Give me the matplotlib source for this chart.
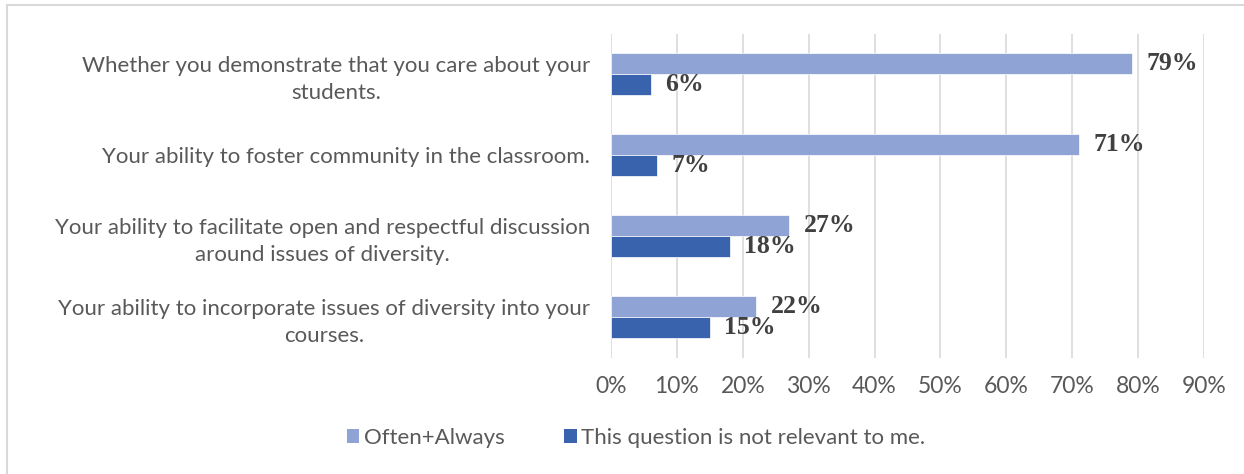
import matplotlib
matplotlib.use("Agg")
import matplotlib.pyplot as plt
from matplotlib.patches import Patch
from matplotlib.lines import Line2D

categories = [
    "Whether you demonstrate that you care about your\nstudents.",
    "Your ability to foster community in the classroom.",
    "Your ability to facilitate open and respectful discussion\naround issues of diversity.",
    "Your ability to incorporate issues of diversity into your\ncourses.",
]
often_always = [0.79, 0.71, 0.27, 0.22]
not_relevant = [0.06, 0.07, 0.18, 0.15]
series_names = ["Often+Always", "This question is not relevant to me."]
x_ticks = [0.0, 0.1, 0.2, 0.3, 0.4, 0.5, 0.6, 0.7, 0.8, 0.9]

W, H = 1244, 474
fig = plt.figure(figsize=(W / 100, H / 100), dpi=100)
fig.patch.set_facecolor("white")

# outer chart frame (left and top edges visible)
frame_c = "#d9d9d9"
fig.add_artist(Line2D([7.5 / W, 7.5 / W], [0, 1 - 5 / H], color=frame_c, lw=1.5, transform=fig.transFigure))
fig.add_artist(Line2D([7.5 / W, 1], [1 - 5 / H, 1 - 5 / H], color=frame_c, lw=1.5, transform=fig.transFigure))

left, right = 611 / W, 1204 / W
top, bottom = 1 - 33.5 / H, 1 - 357.5 / H
ax = fig.add_axes([left, bottom, right - left, top - bottom])

light = "#8FA3D4"
dark = "#3A63AD"
text_c = "#595959"
label_c = "#404040"

n = len(categories)
ypos = list(range(n))
bh = 0.26
ax.barh([y - bh / 2 for y in ypos], often_always, height=bh, color=light, edgecolor="white", linewidth=0.5, zorder=3)
ax.barh([y + bh / 2 for y in ypos], not_relevant, height=bh, color=dark, edgecolor="white", linewidth=0.5, zorder=3)

for y, v in zip(ypos, often_always):
    ax.annotate(f"{round(v * 100)}%", (v, y - bh / 2), xytext=(10.5, 0), textcoords="offset points",
                va="center", ha="left", fontsize=18.5, fontweight="bold",
                family="Liberation Serif", color=label_c)
for y, v in zip(ypos, not_relevant):
    ax.annotate(f"{round(v * 100)}%", (v, y + bh / 2), xytext=(10.5, 0), textcoords="offset points",
                va="center", ha="left", fontsize=18.5, fontweight="bold",
                family="Liberation Serif", color=label_c)

ax.set_xlim(0, 0.9)
ax.set_ylim(n - 0.5, -0.5)
ax.set_xticks(x_ticks)
ax.set_xticklabels([f"{round(t * 100)}%" for t in x_ticks], fontsize=16.5, color=text_c, family="Lato")
ax.set_yticks(ypos)
ax.set_yticklabels(categories, fontsize=16, color=text_c, family="Lato", ha="right",
                   multialignment="center", linespacing=1.45)
ax.tick_params(axis="x", length=0, pad=13)
ax.tick_params(axis="y", length=0, pad=15)

ax.grid(axis="x", color="#d9d9d9", lw=1.2, zorder=0)
for s in ax.spines.values():
    s.set_visible(False)

handles = [Patch(facecolor=light, edgecolor="none"), Patch(facecolor=dark, edgecolor="none")]
fig.legend(handles, series_names, loc="center", bbox_to_anchor=(636 / W, 1 - 438 / H), ncol=2,
           frameon=False, prop={"family": "Lato", "size": 16}, labelcolor=text_c,
           handlelength=0.55, handleheight=0.55, handletextpad=0.2, columnspacing=2.7)

fig.savefig("out.png", dpi=100, facecolor="white")
